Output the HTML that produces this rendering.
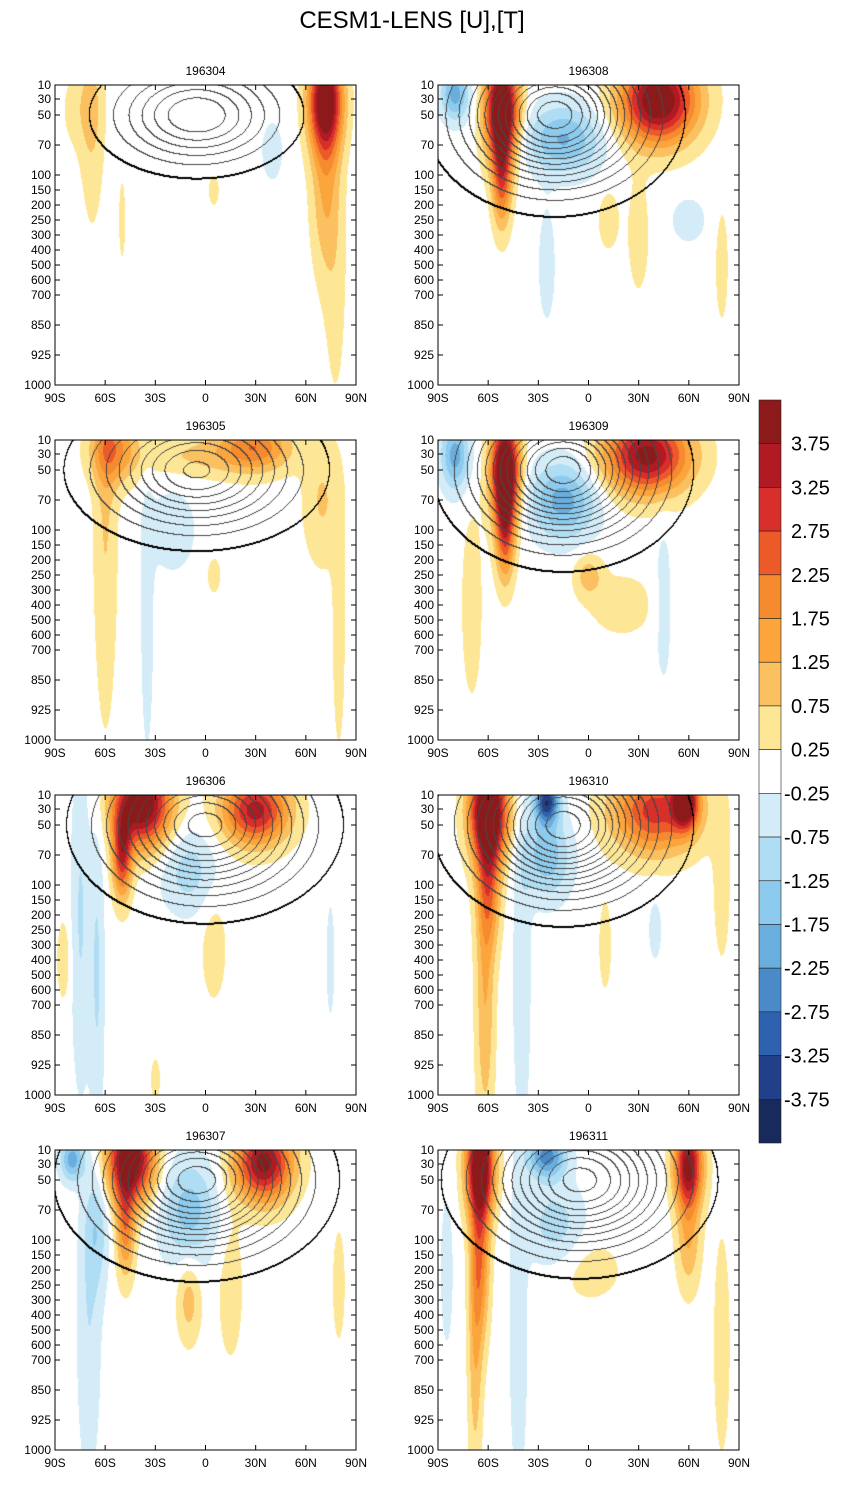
<!DOCTYPE html>
<html><head><meta charset="utf-8">
<style>
body{margin:0;background:#fff;}
#root{position:relative;width:846px;height:1488px;overflow:hidden;font-family:"Liberation Sans",sans-serif;}
canvas{position:absolute;}
svg{position:absolute;left:0;top:0;}
</style></head>
<body>
<div id="root">
<svg id="svg" width="846" height="1488"></svg>
</div>
<script>
// ---- data ----
const panelTitles = ["196304","196308","196305","196309","196306","196310","196307","196311"];
const pressureTicks = ["10","30","50","70","100","150","200","250","300","400","500","600","700","850","925","1000"];
const latTicks = ["90S","60S","30S","0","30N","60N","90N"];
const colorbarLabels = ["3.75","3.25","2.75","2.25","1.75","1.25","0.75","0.25","-0.25","-0.75","-1.25","-1.75","-2.25","-2.75","-3.25","-3.75"];
const binEdges = [-3.75,-3.25,-2.75,-2.25,-1.75,-1.25,-0.75,-0.25,0.25,0.75,1.25,1.75,2.25,2.75,3.25,3.75];
// T anomaly blobs: [lat, yfrac, amplitude, sigmaLat, sigmaY]
const tBlobs196304 = [[72,0.05,4.5,7,0.12],[72,0.35,1.2,6,0.2],[-68,0.1,0.7,5,0.25],[-75,0.08,0.5,8,0.1],[40,0.22,-0.5,5,0.08],[5,0.35,0.4,3,0.05],[78,0.7,0.4,5,0.3],[-50,0.45,0.3,3,0.2]];
const tBlobs196308 = [[-52,0.08,5,7,0.12],[-52,0.3,2.5,4,0.12],[42,0.05,4.5,16,0.1],[-80,0.03,-2,6,0.06],[-15,0.18,-1.8,16,0.08],[-25,0.6,-0.5,4,0.15],[12,0.45,0.5,5,0.08],[30,0.5,0.5,5,0.15],[60,0.45,-0.5,8,0.06],[80,0.6,0.5,3,0.15]];
const tBlobs196305 = [[-60,0.2,0.8,5,0.5],[-55,0.03,1.8,10,0.08],[30,0.02,2,15,0.06],[-5,0.05,0.8,25,0.05],[-20,0.3,-0.6,10,0.1],[-35,0.6,-0.5,3,0.35],[70,0.2,0.8,8,0.15],[80,0.65,0.5,3,0.3],[5,0.45,0.4,4,0.06]];
const tBlobs196309 = [[-50,0.1,5,6,0.12],[-50,0.3,2.5,4,0.12],[35,0.05,4,18,0.09],[-80,0.05,-2,6,0.08],[-15,0.2,-2,14,0.09],[-70,0.55,0.5,5,0.25],[0,0.45,1,6,0.05],[20,0.55,0.5,15,0.08],[45,0.55,-0.5,4,0.2]];
const tBlobs196306 = [[-38,0.03,4.5,12,0.1],[-50,0.2,3,4,0.1],[30,0.05,3.5,14,0.08],[-75,0.4,-0.8,4,0.4],[-65,0.6,-0.8,3,0.4],[-85,0.55,0.6,3,0.1],[-10,0.25,-1,12,0.1],[5,0.5,0.5,6,0.15],[75,0.55,-0.5,2,0.15],[-30,0.95,0.6,2,0.05]];
const tBlobs196310 = [[-60,0.05,5,8,0.12],[-60,0.3,2,5,0.15],[-62,0.7,1.2,4,0.3],[40,0.05,3,18,0.1],[58,0.02,4,5,0.06],[-25,0.02,-3.5,5,0.05],[-25,0.2,-1.6,10,0.1],[-40,0.6,-0.6,4,0.4],[10,0.5,0.5,3,0.12],[40,0.45,-0.5,3,0.08],[80,0.3,0.5,4,0.2]];
const tBlobs196307 = [[-45,0.03,4.5,10,0.1],[-48,0.25,2,4,0.12],[35,0.04,4,12,0.09],[-80,0.03,-2,5,0.05],[-65,0.25,-1,5,0.15],[-70,0.6,-0.7,5,0.35],[-10,0.2,-1.5,12,0.12],[-10,0.5,1,5,0.1],[15,0.45,0.5,6,0.2],[80,0.45,0.5,3,0.15]];
const tBlobs196311 = [[-65,0.05,4.5,6,0.12],[-65,0.35,2,4,0.2],[-68,0.7,1,3,0.3],[60,0.05,4,6,0.1],[60,0.3,1.2,5,0.12],[-25,0.02,-2.5,8,0.05],[-20,0.25,-1,12,0.1],[-42,0.6,-0.6,4,0.4],[0,0.4,0.5,15,0.08],[80,0.65,0.5,4,0.3],[-85,0.4,-0.5,3,0.2]];
// U jet blobs: [lat, yfrac, amplitude, sigmaLat, sigmaY]
const uBlobs196304 = [[-5,0.1,30,30,0.1]];
const uBlobs196308 = [[-20,0.1,60,32,0.14]];
const uBlobs196305 = [[-5,0.1,40,35,0.12]];
const uBlobs196309 = [[-15,0.1,60,32,0.14]];
const uBlobs196306 = [[0,0.1,50,35,0.14]];
const uBlobs196310 = [[-15,0.1,60,32,0.14]];
const uBlobs196307 = [[-5,0.1,60,35,0.14]];
const uBlobs196311 = [[-5,0.1,50,35,0.14]];
const tSets=[tBlobs196304,tBlobs196308,tBlobs196305,tBlobs196309,tBlobs196306,tBlobs196310,tBlobs196307,tBlobs196311];
const uSets=[uBlobs196304,uBlobs196308,uBlobs196305,uBlobs196309,uBlobs196306,uBlobs196310,uBlobs196307,uBlobs196311];

const binColors=["#182a5c","#223f8a","#2f62ae","#4b8ac8","#6aaede","#8ccbed","#afddf3","#d3ecf8","#ffffff","#fde796","#fbc060","#fba53c","#f68a2e","#ec5a2a","#d92f2a","#b01a22","#8c1a1a"];
const tickOffsets=[0,14,30,60,90,105,120,135,150,165,180,195,210,240,270,300];

const NS="http://www.w3.org/2000/svg";
const svg=document.getElementById('svg');
const root=document.getElementById('root');
function mk(tag,attrs,parent){const e=document.createElementNS(NS,tag);for(const k in attrs)e.setAttribute(k,attrs[k]);(parent||svg).appendChild(e);return e;}
function binOf(v){let i=0;while(i<binEdges.length&&v>=binEdges[i])i++;return i;}
function field(bl,lat,yf){let s=0;for(const b of bl){const dx=(lat-b[0])/b[3],dy=(yf-b[1])/b[4];s+=b[2]*Math.exp(-0.5*(dx*dx+dy*dy));}return s;}
function hex(c){return [parseInt(c.slice(1,3),16),parseInt(c.slice(3,5),16),parseInt(c.slice(5,7),16)];}
const rgb=binColors.map(hex);

const title=mk('text',{x:412,y:28,'text-anchor':'middle','font-size':24,'font-family':'Liberation Sans, sans-serif'});
title.textContent="CESM1-LENS [U],[T]";



const lefts=[55,438], tops=[85,440,795,1150], W=301, H=300;
for(let p=0;p<8;p++){
  const X=lefts[p%2], Y=tops[Math.floor(p/2)];
  const cv=document.createElement('canvas');cv.width=W;cv.height=H;
  cv.style.left=X+'px';cv.style.top=Y+'px';
  
  
  root.insertBefore(cv,svg);
  const ctx=cv.getContext('2d');const img=ctx.createImageData(W,H);
  const ub=uSets[p], tb=tSets[p];
  const K=new Int16Array(W*H);
  for(let j=0;j<H;j++)for(let i=0;i<W;i++){
    const lat=-90+180*i/(W-1), yf=j/(H-1);
    K[j*W+i]=Math.floor((field(ub,lat,yf)-3)/4.5);
    const c=rgb[binOf(field(tb,lat,yf))];const o=(j*W+i)*4;
    img.data[o]=c[0];img.data[o+1]=c[1];img.data[o+2]=c[2];img.data[o+3]=255;
  }
  for(let j=0;j<H-1;j++)for(let i=0;i<W-1;i++){
    const a=K[j*W+i],b=K[j*W+i+1],c=K[(j+1)*W+i];
    if(a!==b||a!==c){const o=(j*W+i)*4;const thick=Math.min(a,b,c)<0;
      const g=thick?0:70;img.data[o]=g;img.data[o+1]=g;img.data[o+2]=g;
      if(thick&&j>0){const o2=o-W*4;img.data[o2]=0;img.data[o2+1]=0;img.data[o2+2]=0;}}
  }
  ctx.putImageData(img,0,0);
  const g=mk('g',{});
  
  
  const fr=mk('rect',{x:X,y:Y,width:W,height:H,fill:'none',stroke:'#000','stroke-width':1},g);
  
  
  const t=mk('text',{x:X+W/2,y:Y-10,'text-anchor':'middle','font-size':12},g);t.textContent=panelTitles[p];
  
  
  pressureTicks.forEach((lab,k)=>{
    const yy=Y+tickOffsets[k];
    mk('line',{x1:X,x2:X+5,y1:yy,y2:yy,stroke:'#000'},g);
    mk('line',{x1:X+W,x2:X+W-5,y1:yy,y2:yy,stroke:'#000'},g);
    const tx=mk('text',{x:X-4,y:yy+4,'text-anchor':'end','font-size':12},g);tx.textContent=lab;
    
    
  });
  latTicks.forEach((lab,k)=>{
    const xx=X+W*k/6;
    mk('line',{x1:xx,x2:xx,y1:Y+H,y2:Y+H-5,stroke:'#000'},g);
    mk('line',{x1:xx,x2:xx,y1:Y,y2:Y+5,stroke:'#000'},g);
    const tx=mk('text',{x:xx,y:Y+H+17,'text-anchor':'middle','font-size':12},g);tx.textContent=lab;
    
    
  });
}
// colorbar
const cb=mk('g',{});


const cbTop=400, cbH=743, n=binColors.length, bh=cbH/n;
for(let k=0;k<n;k++){
  const r=mk('rect',{x:759,y:cbTop+k*bh,width:22,height:bh,fill:binColors[n-1-k],stroke:'#222','stroke-width':0.6},cb);
  
  
}
colorbarLabels.forEach((lab,k)=>{
  const tx=mk('text',{x:lab.startsWith('-')?784:791,y:cbTop+(k+1)*bh+7,'font-size':20},cb);tx.textContent=lab;
  
  
});
</script>
</body></html>
